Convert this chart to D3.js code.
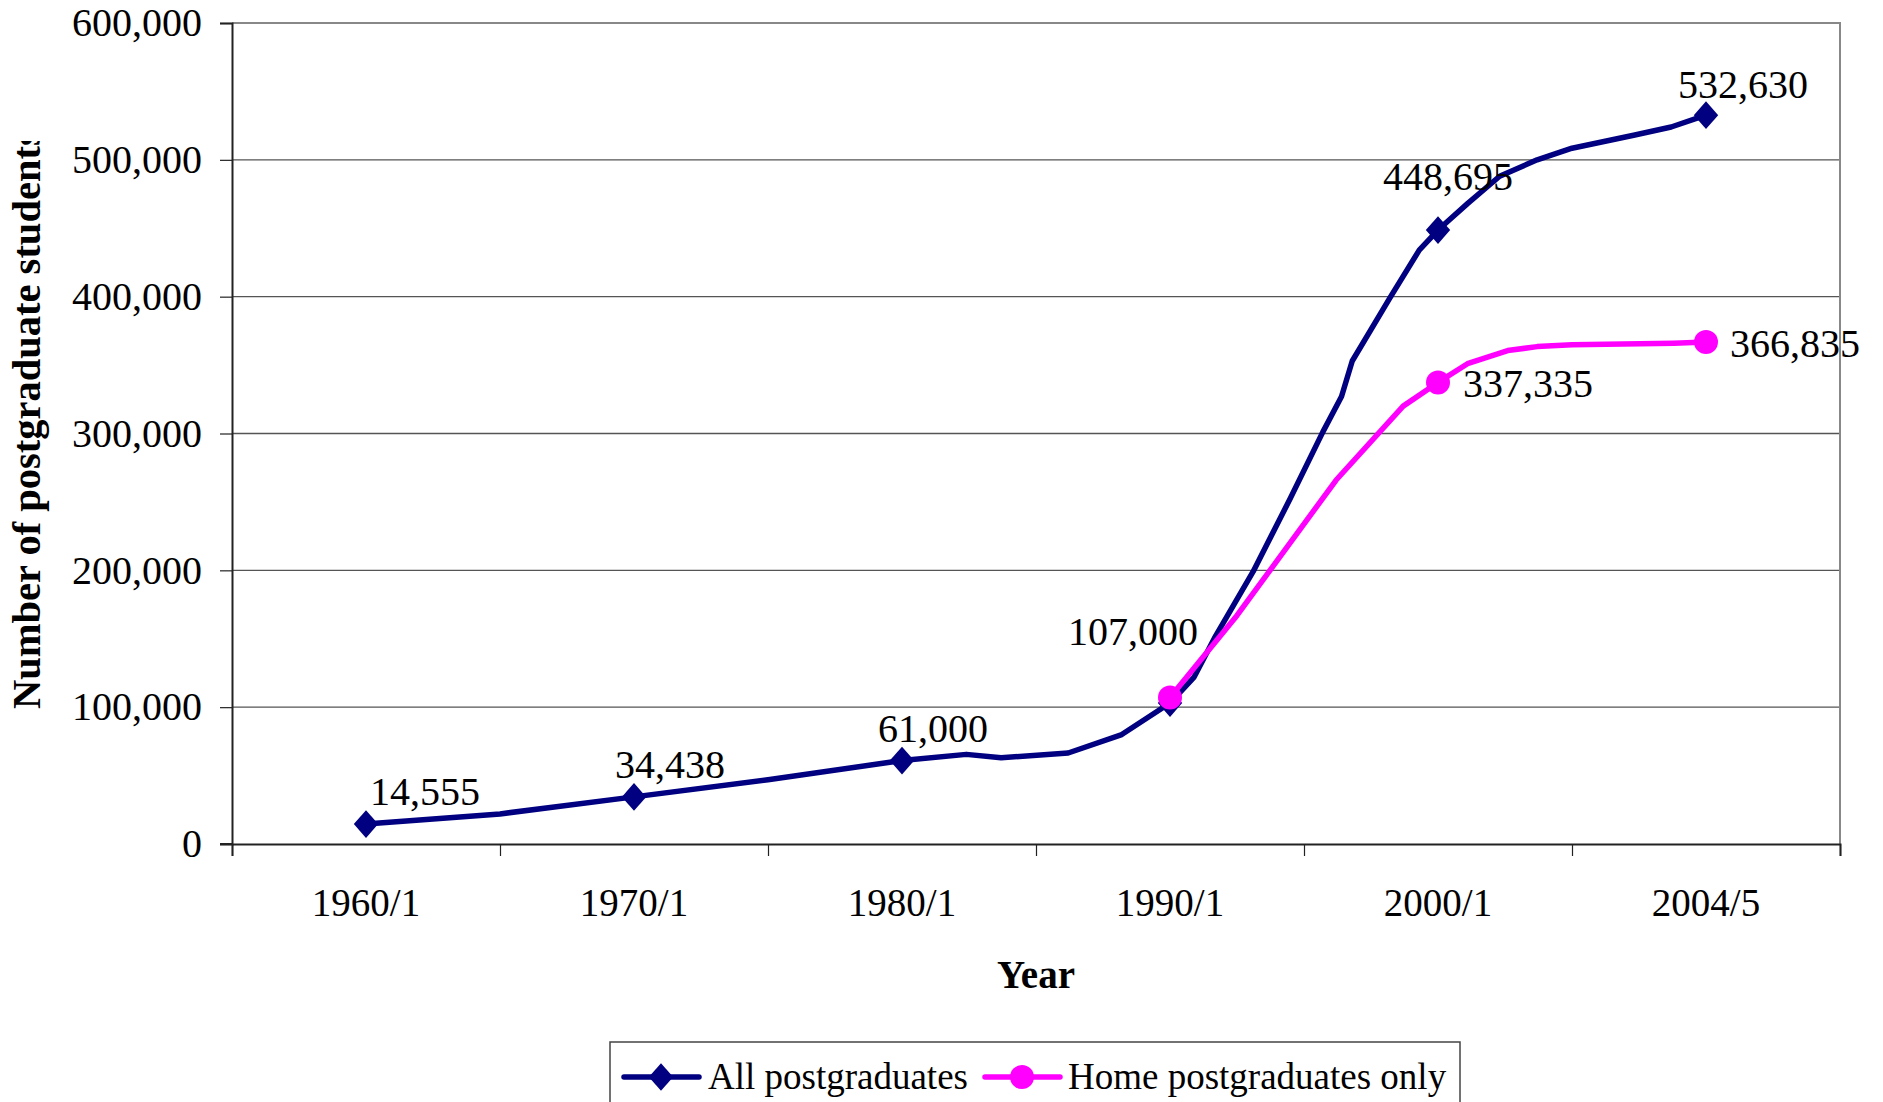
<!DOCTYPE html>
<html>
<head>
<meta charset="utf-8">
<title>Postgraduate students</title>
<script src="https://cdn.jsdelivr.net/npm/d3@7"></script>
<style>
    html, body { margin: 0; padding: 0; background: #fff; }
    svg text { font-family: "Liberation Serif", "Times New Roman", serif; fill: #000; }
</style>
</head>
<body>
<div id="chart"></div>
<script>
// Category labels on the x axis (one per band)
const categories = ['1960/1', '1970/1', '1980/1', '1990/1', '2000/1', '2004/5'];

// All postgraduates: position along the category axis (0 = first band centre) and value
const allPos = [0, 0.5, 1, 1.5, 2, 2.24, 2.37, 2.62, 2.82, 3, 3.09, 3.17, 3.31, 3.45, 3.57, 3.64, 3.68, 3.82, 3.93, 4, 4.11, 4.23, 4.37, 4.5, 4.73, 4.87, 5];
const allValues = [14555, 22000, 34438, 47000, 61000, 65500, 63000, 66500, 80000, 103000, 122000, 152000, 199000, 253000, 301000, 327000, 353000, 399000, 434000, 448695, 468000, 488000, 500000, 508500, 518000, 524000, 532630];

// Home postgraduates only
const homePos = [3, 3.25, 3.62, 3.87, 4, 4.11, 4.26, 4.37, 4.5, 4.88, 5];
const homeValues = [107000, 167000, 266000, 320000, 337335, 351000, 360600, 363500, 364800, 366000, 366835];

// Marked points (with data labels)
const allMarkers = [0, 1, 2, 3, 4, 5];
const allMarkerValues = [14555, 34438, 61000, 103000, 448695, 532630];
const allLabels = ['14,555', '34,438', '61,000', '', '448,695', '532,630'];
const homeMarkers = [3, 4, 5];
const homeMarkerValues = [107000, 337335, 366835];
const homeLabels = ['107,000', '337,335', '366,835'];

const yTicks = [0, 100000, 200000, 300000, 400000, 500000, 600000];

// Label offsets from the marker (text start, baseline)
const allLabelOffsets = [[4, -19], [-19, -19], [-24, -19], [0, 0], [-55, -40], [-28, -17]];
const homeLabelOffsets = [[-102, -53], [25, 15], [24, 15]];

const W = 1883, H = 1102;
const plot = { left: 232, right: 1840, top: 23, bottom: 844 };
const blue = '#000080', pink = '#ff00ff';

const svg = d3.select('#chart')
    .append('svg')
    .attr('width', W)
    .attr('height', H);

// Scales
const x = d3.scaleLinear()
    .domain([-0.5, categories.length - 0.5])
    .range([plot.left, plot.right]);

const y = d3.scaleLinear()
    .domain([0, 600000])
    .range([plot.bottom, plot.top]);

// Gridlines
svg.append('g')
    .selectAll('line')
    .data(yTicks.filter(d => d > 0 && d < 600000))
    .enter()
    .append('line')
    .attr('x1', plot.left)
    .attr('x2', plot.right)
    .attr('y1', d => y(d))
    .attr('y2', d => y(d))
    .attr('stroke', '#555')
    .attr('stroke-width', 1.3);

// Plot border (top and right)
svg.append('path')
    .attr('d', `M${plot.left},${plot.top}H${plot.right}V${plot.bottom}`)
    .attr('fill', 'none')
    .attr('stroke', '#888')
    .attr('stroke-width', 2);

// Y axis
const yAxis = d3.axisLeft(y)
    .tickValues(yTicks)
    .tickSize(12)
    .tickPadding(18)
    .tickFormat(d3.format(','));

svg.append('g')
    .attr('transform', `translate(${plot.left},0)`)
    .call(yAxis)
    .call(g => g.select('.domain').attr('stroke', '#222').attr('stroke-width', 2))
    .call(g => g.selectAll('.tick line').attr('stroke', '#222').attr('stroke-width', 1.2))
    .selectAll('text')
    .style('font-size', '40px')
    .attr('fill', '#000');

// X axis: ticks at band edges, labels at band centres
const xAxis = d3.axisBottom(x)
    .tickValues(d3.range(categories.length + 1).map(i => i - 0.5))
    .tickSize(12)
    .tickFormat('');

svg.append('g')
    .attr('transform', `translate(0,${plot.bottom})`)
    .call(xAxis)
    .call(g => g.select('.domain').attr('stroke', '#222').attr('stroke-width', 2))
    .call(g => g.selectAll('.tick line').attr('stroke', '#222').attr('stroke-width', 1.2));

svg.append('line')
    .attr('x1', plot.left - 12)
    .attr('x2', plot.left)
    .attr('y1', plot.bottom)
    .attr('y2', plot.bottom)
    .attr('stroke', '#222')
    .attr('stroke-width', 2);

svg.append('g')
    .selectAll('text')
    .data(categories)
    .enter()
    .append('text')
    .attr('x', (d, i) => x(i))
    .attr('y', 916)
    .attr('text-anchor', 'middle')
    .style('font-size', '39px')
    .text(d => d);

// Axis titles
svg.append('text')
    .attr('x', (plot.left + plot.right) / 2)
    .attr('y', 988)
    .attr('text-anchor', 'middle')
    .style('font-size', '39px')
    .style('font-weight', 'bold')
    .text('Year');

// y title is cut off at the top, as in the original
svg.append('clipPath')
    .attr('id', 'ytitle-clip')
    .append('rect')
    .attr('x', 0)
    .attr('y', 141)
    .attr('width', 80)
    .attr('height', 700);

svg.append('g')
    .attr('clip-path', 'url(#ytitle-clip)')
    .append('text')
    .attr('transform', 'translate(40,709) rotate(-90)')
    .style('font-size', '40.5px')
    .style('font-weight', 'bold')
    .text('Number of postgraduate students');

// Lines
const line = d3.line()
    .x(d => x(d[0]))
    .y(d => y(d[1]));

svg.append('path')
    .datum(d3.zip(allPos, allValues))
    .attr('d', line)
    .attr('fill', 'none')
    .attr('stroke', blue)
    .attr('stroke-width', 5.5)
    .attr('stroke-linejoin', 'round');

svg.append('path')
    .datum(d3.zip(homePos, homeValues))
    .attr('d', line)
    .attr('fill', 'none')
    .attr('stroke', pink)
    .attr('stroke-width', 5.5)
    .attr('stroke-linejoin', 'round');

// Markers
const diamond = d3.symbol().type(d3.symbolDiamond2).size(420);

svg.append('g')
    .selectAll('path')
    .data(d3.zip(allMarkers, allMarkerValues))
    .enter()
    .append('path')
    .attr('d', diamond)
    .attr('transform', d => `translate(${x(d[0])},${y(d[1])}) scale(0.95,1.08)`)
    .attr('fill', blue);

svg.append('g')
    .selectAll('circle')
    .data(d3.zip(homeMarkers, homeMarkerValues))
    .enter()
    .append('circle')
    .attr('cx', d => x(d[0]))
    .attr('cy', d => y(d[1]))
    .attr('r', 12)
    .attr('fill', pink);

// Data labels
svg.append('g')
    .selectAll('text')
    .data(d3.zip(allMarkers, allMarkerValues, allLabels, allLabelOffsets))
    .enter()
    .append('text')
    .attr('x', d => x(d[0]) + d[3][0])
    .attr('y', d => y(d[1]) + d[3][1])
    .style('font-size', '40px')
    .text(d => d[2]);

svg.append('g')
    .selectAll('text')
    .data(d3.zip(homeMarkers, homeMarkerValues, homeLabels, homeLabelOffsets))
    .enter()
    .append('text')
    .attr('x', d => x(d[0]) + d[3][0])
    .attr('y', d => y(d[1]) + d[3][1])
    .style('font-size', '40px')
    .text(d => d[2]);

// Legend
const legend = svg.append('g');

legend.append('rect')
    .attr('x', 610)
    .attr('y', 1042)
    .attr('width', 850)
    .attr('height', 80)
    .attr('fill', '#fff')
    .attr('stroke', '#444')
    .attr('stroke-width', 1.5);

const legendItems = [
    { name: 'All postgraduates', color: blue, marker: 'diamond', x: 624, tx: 708 },
    { name: 'Home postgraduates only', color: pink, marker: 'circle', x: 985, tx: 1068 }
];

legendItems.forEach(item => {
    legend.append('line')
        .attr('x1', item.x)
        .attr('x2', item.x + 75)
        .attr('y1', 1077)
        .attr('y2', 1077)
        .attr('stroke', item.color)
        .attr('stroke-width', 5.5)
        .attr('stroke-linecap', 'round');
    if (item.marker === 'diamond') {
        legend.append('path')
            .attr('d', diamond)
            .attr('transform', `translate(${item.x + 37},1077) scale(0.95,1.08)`)
            .attr('fill', item.color);
    } else {
        legend.append('circle')
            .attr('cx', item.x + 37)
            .attr('cy', 1077)
            .attr('r', 12)
            .attr('fill', item.color);
    }
    legend.append('text')
        .attr('x', item.tx)
        .attr('y', 1089)
        .style('font-size', '37px')
        .text(item.name);
});
</script>
</body>
</html>
